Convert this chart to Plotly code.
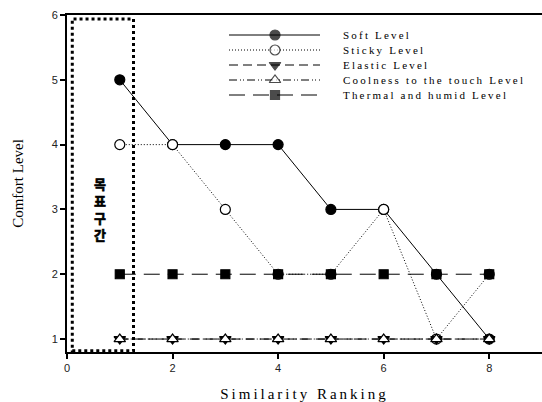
import plotly.graph_objects as go

rank = [1, 2, 3, 4, 5, 6, 7, 8]
soft = [5, 4, 4, 4, 3, 3, 2, 1]
sticky = [4, 4, 3, 2, 2, 3, 1, 2]
elastic = [1, 1, 1, 1, 1, 1, 1, 1]
coolness = [1, 1, 1, 1, 1, 1, 1, 1]
thermal = [2, 2, 2, 2, 2, 2, 2, 2]

names = ["Soft Level", "Sticky Level", "Elastic Level",
         "Coolness to the touch Level", "Thermal and humid Level"]
series = [soft, sticky, elastic, coolness, thermal]
dashes = ["solid", "1px,2px", "9px,5px", "8px,3px,1px,2px,1px,3px", "16px,8px"]
symbols = ["circle", "circle", "triangle-down", "triangle-up", "square"]
fills = ["black", "white", "black", "white", "black"]
sizes = [10, 10, 10, 10, 9]

# plot-area geometry in pixels (used for the hand-drawn legend key)
W, H = 542, 402
ML, MR, MT, MB = 67, 0, 15, 50
LEG_X = [229, 275, 320]
LEG_TEXT_X = 341
LEG_ROW0, LEG_STEP = 35, 15

fig = go.Figure()
for nm, ys, d, s, fc, sz in zip(names, series, dashes, symbols, fills, sizes):
    fig.add_trace(go.Scatter(
        x=rank, y=ys, name=nm, mode="lines+markers", showlegend=False,
        line=dict(color="black", width=1, dash=d),
        marker=dict(symbol=s, size=sz, color=fc, line=dict(color="black", width=1.2)),
    ))

# legend key drawn in pixel coordinates on an overlay axis pair
for i, (nm, d, s, fc, sz) in enumerate(zip(names, dashes, symbols, fills, sizes)):
    yy = LEG_ROW0 + i * LEG_STEP
    fig.add_trace(go.Scatter(
        x=LEG_X, y=[yy] * 3, xaxis="x2", yaxis="y2", mode="lines+markers",
        showlegend=False, hoverinfo="skip",
        line=dict(color="black", width=1, dash=d),
        marker=dict(symbol=s, size=[0, sz, 0], color=fc,
                    line=dict(color="black", width=[0, 1.2, 0])),
    ))
    fig.add_annotation(x=LEG_TEXT_X, y=yy, xref="x2", yref="y2", text=nm,
                       showarrow=False, xanchor="left", yanchor="middle", align="left",
                       font=dict(family="Liberation Serif", size=11, color="black"))

# target zone rectangle
fig.add_shape(type="rect", x0=0.1, x1=1.26, y0=0.82, y1=5.94,
              line=dict(color="black", width=3, dash="dot"), layer="above")
fig.add_annotation(x=0.62, y=3.0, text="목<br>표<br>구<br>간", showarrow=False,
                   font=dict(family="Noto Sans CJK KR", size=13, color="black", weight="bold"),
                   align="center")

fig.update_layout(
    width=W, height=H,
    margin=dict(l=ML, r=MR, t=MT, b=MB),
    plot_bgcolor="white", paper_bgcolor="white",
    showlegend=False,
    xaxis=dict(range=[0, 9], tickvals=[0, 2, 4, 6, 8], showgrid=False, zeroline=False,
               showline=True, linecolor="black", linewidth=2, mirror=True,
               ticks="outside", ticklen=5, tickwidth=2, tickcolor="black", automargin=False,
               tickfont=dict(family="Liberation Sans", size=11, color="#222"),
               title=dict(text="Similarity Ranking", standoff=17,
                          font=dict(family="Liberation Serif", size=15, color="black"))),
    yaxis=dict(range=[0.8, 6], tickvals=[1, 2, 3, 4, 5, 6], showgrid=False, zeroline=False,
               showline=True, linecolor="black", linewidth=2, automargin=False,
               ticks="outside", ticklen=5, tickwidth=2, tickcolor="black",
               tickfont=dict(family="Liberation Sans", size=11, color="#222"),
               title=dict(text="Comfort Level", standoff=24,
                          font=dict(family="Liberation Serif", size=15, color="black"))),
    xaxis2=dict(overlaying="x", range=[ML, W - MR], visible=False, fixedrange=True),
    yaxis2=dict(overlaying="y", range=[H - MB, MT], visible=False, fixedrange=True),
)

post = """
document.body.style.margin = '0';
document.querySelectorAll('.annotation-text').forEach(function(e){
  if (!/[\\uac00-\\ud7a3]/.test(e.textContent)) {
    e.style.letterSpacing = '2.2px';
  } else {
    e.style.stroke = 'black'; e.style.strokeWidth = '0.6px';
  }
});
document.querySelectorAll('.g-xtitle text').forEach(function(e){ e.style.letterSpacing = '3px'; });
"""
fig.write_html("out.html", post_script=post, config={"displayModeBar": False})
